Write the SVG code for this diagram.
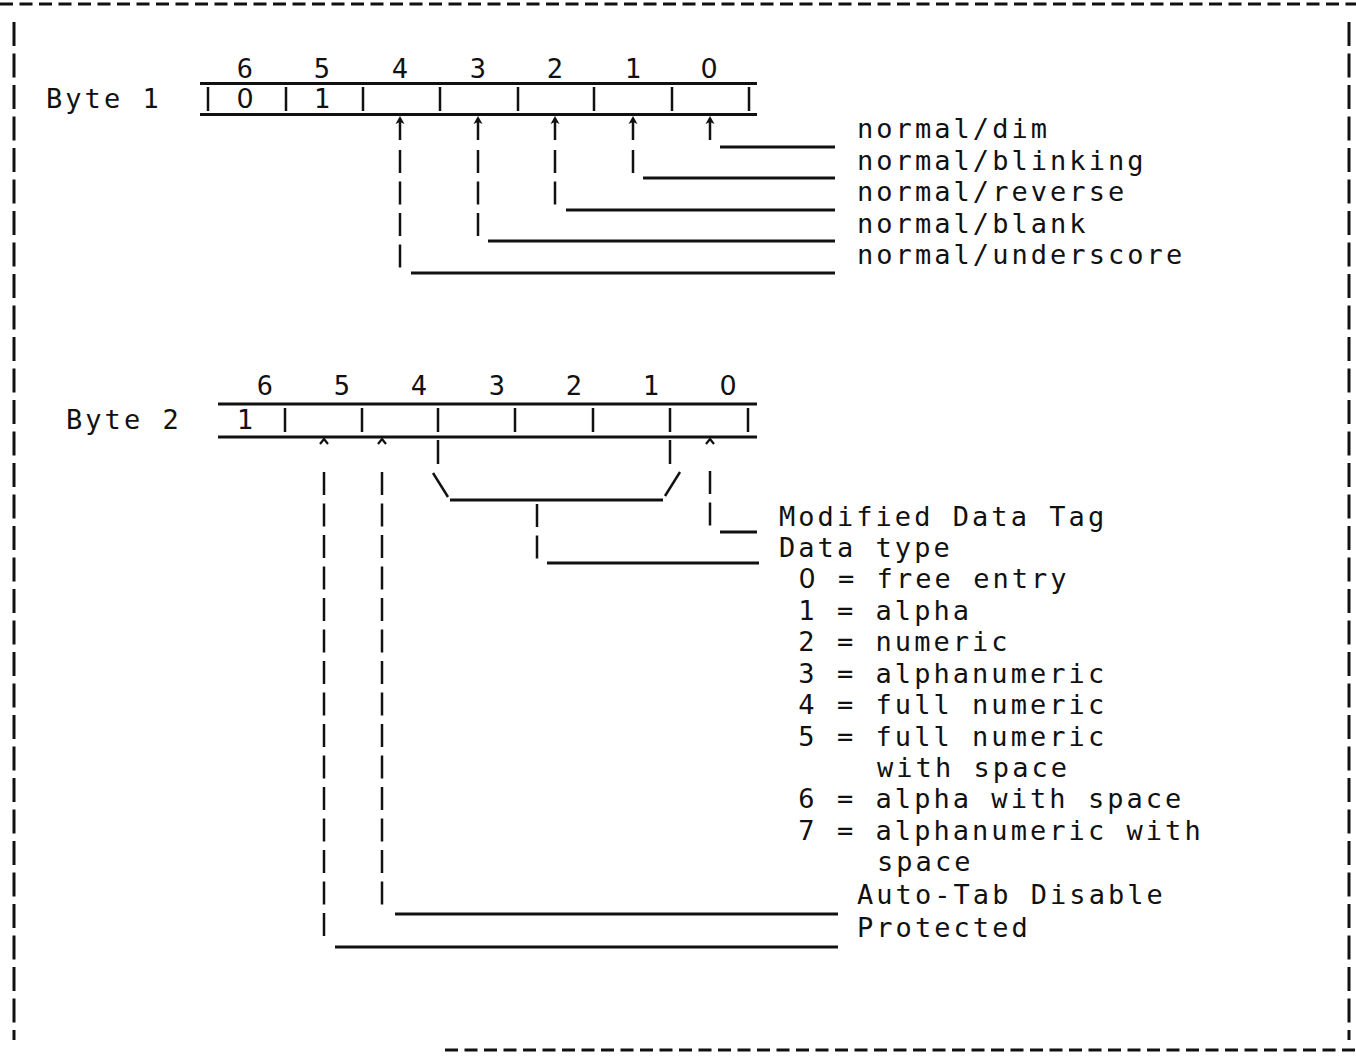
<svg xmlns="http://www.w3.org/2000/svg" width="1356" height="1057" viewBox="0 0 1356 1057">
  <style>
    text { font-family: "DejaVu Sans Mono", "Liberation Mono", monospace; font-size: 27px; fill: #111; letter-spacing: 3.05px; }
    text.c { text-anchor: middle; letter-spacing: 0; }
    text.z { font-family: "DejaVu Sans", "Liberation Sans", sans-serif; }
    .ln { stroke: #111; stroke-width: 3; fill: none; stroke-linecap: butt; }
    .tk { stroke: #111; stroke-width: 2.5; fill: none; }
    .vd { stroke: #111; stroke-width: 2.5; fill: none; stroke-dasharray: 23 8.5; }
    .bd { stroke: #111; stroke-width: 3; fill: none; }
    .hd { fill: #111; stroke: none; }
  </style>
  <defs>
    <path id="head" class="hd" d="M -4.5 8 L 0 0 L 4.5 8 L 0 6 Z"/>
    <path id="caret" d="M -4 7 L 0 2 L 4 7" stroke="#111" stroke-width="2.2" fill="none"/>
  </defs>

  <!-- page frame typed with dashes -->
  <g id="frame">
    <line class="bd" x1="0" y1="4" x2="1356" y2="4" stroke-dasharray="13 6.5"/>
    <line class="bd" x1="14" y1="22" x2="14" y2="1040" stroke-dasharray="24 7.5"/>
    <line class="bd" x1="1349" y1="22" x2="1349" y2="1040" stroke-dasharray="24 7.5"/>
    <line class="bd" x1="445" y1="1050" x2="1356" y2="1050" stroke-dasharray="13 6.5"/>
  </g>

  <!-- Byte 1 register -->
  <g id="byte1">
    <text x="46" y="108">Byte 1</text>
    <line class="ln" x1="200" y1="83.5" x2="757" y2="83.5"/>
    <line class="ln" x1="200" y1="114.5" x2="757" y2="114.5"/>
    <path class="tk" d="M208 87V111 M286 87V111 M363 87V111 M440 87V111 M518 87V111 M594 87V111 M672 87V111 M749 87V111"/>
    <text class="c" x="245" y="78">6</text>
    <text class="c" x="322" y="78">5</text>
    <text class="c" x="400" y="78">4</text>
    <text class="c" x="478" y="78">3</text>
    <text class="c" x="555" y="78">2</text>
    <text class="c" x="633" y="78">1</text>
    <text class="c z" x="709" y="78">0</text>
    <text class="c z" x="245" y="108">0</text>
    <text class="c" x="322" y="108">1</text>
  </g>

  <!-- Byte 1 field labels -->
  <g id="byte1-labels">
    <text x="857" y="138">normal/dim</text>
    <text x="857" y="170">normal/blinking</text>
    <text x="857" y="201">normal/reverse</text>
    <text x="857" y="233">normal/blank</text>
    <text x="857" y="264">normal/underscore</text>
  </g>

  <!-- Byte 2 register -->
  <g id="byte2">
    <text x="66" y="429">Byte 2</text>
    <line class="ln" x1="218" y1="404" x2="757" y2="404"/>
    <line class="ln" x1="218" y1="437" x2="757" y2="437"/>
    <path class="tk" d="M285 408V432 M362 408V432 M438 408V432 M515 408V432 M593 408V432 M670 408V432 M748 408V432"/>
    <text class="c" x="265" y="395">6</text>
    <text class="c" x="342" y="395">5</text>
    <text class="c" x="419" y="395">4</text>
    <text class="c" x="497" y="395">3</text>
    <text class="c" x="574" y="395">2</text>
    <text class="c" x="651" y="395">1</text>
    <text class="c z" x="728" y="395">0</text>
    <text class="c" x="245" y="429">1</text>
  </g>

  <!-- Byte 2 field labels -->
  <g id="byte2-labels">
    <text x="779" y="526">Modified Data Tag</text>
    <text x="779" y="557">Data type</text>
    <text class="c z" x="807" y="588">0</text>
    <text x="838" y="588">= free entry</text>
    <text x="779" y="620" xml:space="preserve"> 1 = alpha</text>
    <text x="779" y="651" xml:space="preserve"> 2 = numeric</text>
    <text x="779" y="683" xml:space="preserve"> 3 = alphanumeric</text>
    <text x="779" y="714" xml:space="preserve"> 4 = full numeric</text>
    <text x="779" y="746" xml:space="preserve"> 5 = full numeric</text>
    <text x="877" y="777">with space</text>
    <text x="779" y="808" xml:space="preserve"> 6 = alpha with space</text>
    <text x="779" y="840" xml:space="preserve"> 7 = alphanumeric with</text>
    <text x="877" y="871">space</text>
    <text x="857" y="904">Auto-Tab Disable</text>
    <text x="857" y="937">Protected</text>
  </g>

  <!-- leader lines from bits to labels -->
  <g id="connectors">
    <!-- Byte 1: arrows up into the register -->
    <use href="#head" x="400" y="116"/>
    <use href="#head" x="478" y="116"/>
    <use href="#head" x="555" y="116"/>
    <use href="#head" x="633" y="116"/>
    <use href="#head" x="710" y="116"/>
    <path class="tk" d="M400 120V140 M478 120V140 M555 120V140 M633 120V140 M710 120V140"/>
    <!-- bit 0 -->
    <line class="ln" x1="720" y1="147" x2="835" y2="147"/>
    <!-- bit 1 -->
    <line class="vd" x1="633" y1="150" x2="633" y2="173"/>
    <line class="ln" x1="643" y1="178" x2="835" y2="178"/>
    <!-- bit 2 -->
    <line class="vd" x1="555" y1="150" x2="555" y2="205"/>
    <line class="ln" x1="566" y1="210" x2="835" y2="210"/>
    <!-- bit 3 -->
    <line class="vd" x1="478" y1="150" x2="478" y2="236"/>
    <line class="ln" x1="488" y1="241" x2="835" y2="241"/>
    <!-- bit 4 -->
    <line class="vd" x1="400" y1="150" x2="400" y2="268"/>
    <line class="ln" x1="411" y1="273" x2="835" y2="273"/>

    <!-- Byte 2: carets under single bits -->
    <use href="#caret" x="324" y="437"/>
    <use href="#caret" x="382" y="437"/>
    <use href="#caret" x="710" y="437"/>

    <!-- bit 0: Modified Data Tag -->
    <line class="vd" x1="710" y1="471" x2="710" y2="527"/>
    <line class="ln" x1="720" y1="532" x2="757" y2="532"/>

    <!-- bits 1-4 bracket: Data type -->
    <line class="tk" x1="438" y1="440" x2="438" y2="464"/>
    <line class="tk" x1="670" y1="440" x2="670" y2="464"/>
    <line class="tk" x1="433" y1="473" x2="448" y2="497"/>
    <line class="tk" x1="665" y1="496" x2="680" y2="472"/>
    <line class="ln" x1="450" y1="500" x2="663" y2="500"/>
    <line class="vd" x1="537" y1="504" x2="537" y2="559"/>
    <line class="ln" x1="547" y1="563" x2="759" y2="563"/>

    <!-- bit 5: Auto-Tab Disable -->
    <line class="vd" x1="382" y1="472" x2="382" y2="912"/>
    <line class="ln" x1="395" y1="914" x2="838" y2="914"/>

    <!-- bit 6: Protected -->
    <line class="vd" x1="324" y1="472" x2="324" y2="944"/>
    <line class="ln" x1="335" y1="947" x2="838" y2="947"/>
  </g>
</svg>
